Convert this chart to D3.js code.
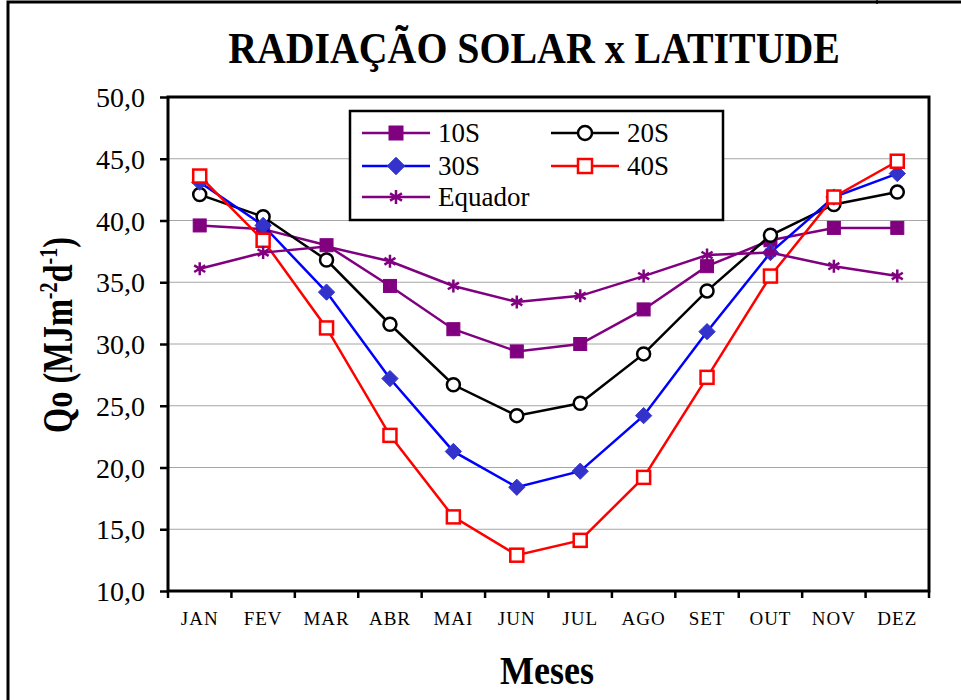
<!DOCTYPE html>
<html>
<head>
<meta charset="utf-8">
<script src="https://cdnjs.cloudflare.com/ajax/libs/d3/7.8.5/d3.min.js"></script>
<style>
  body { margin: 0; background: #fff; }
  svg { display: block; font-family: "Liberation Serif", "Times New Roman", serif; }
</style>
</head>
<body>
<svg width="961" height="700"></svg>
<script>
/*
Chart data
 */
const months = ["JAN", "FEV", "MAR", "ABR", "MAI", "JUN", "JUL", "AGO", "SET", "OUT", "NOV", "DEZ"];
const lat10S = [39.6, 39.3, 38.0, 34.7, 31.2, 29.4, 30.0, 32.8, 36.3, 38.4, 39.4, 39.4];
const lat20S = [42.1, 40.3, 36.8, 31.6, 26.7, 24.2, 25.2, 29.2, 34.3, 38.8, 41.3, 42.3];
const lat30S = [43.1, 39.6, 34.2, 27.2, 21.3, 18.4, 19.7, 24.2, 31.0, 37.4, 41.9, 43.8];
const lat40S = [43.6, 38.4, 31.3, 22.6, 16.0, 12.9, 14.1, 19.2, 27.3, 35.5, 41.9, 44.8];
const equador = [36.1, 37.4, 37.9, 36.7, 34.7, 33.4, 33.9, 35.5, 37.2, 37.4, 36.3, 35.5];
const yTicks = [10, 15, 20, 25, 30, 35, 40, 45, 50];

/*
Static constants
 */
const plot = { left: 168, right: 929, top: 97, bottom: 591 };
const purple = "#800080";
const serif = "Liberation Serif, Times New Roman, serif";

const series = [
    { name: "10S", values: lat10S, line: purple, marker: "square", fill: purple, stroke: purple },
    { name: "20S", values: lat20S, line: "#000000", marker: "circle", fill: "#ffffff", stroke: "#000000" },
    { name: "30S", values: lat30S, line: "#0000ff", marker: "diamond", fill: "#3333cc", stroke: "#3333cc" },
    { name: "40S", values: lat40S, line: "#ff0000", marker: "square", fill: "#ffffff", stroke: "#ff0000" },
    { name: "Equador", values: equador, line: purple, marker: "asterisk", fill: "none", stroke: purple }
];

var svg = d3.select("svg");

var x = d3.scaleBand()
    .domain(months)
    .range([plot.left, plot.right]);

var y = d3.scaleLinear()
    .domain([10, 50])
    .range([plot.bottom, plot.top]);

//Squeeze text horizontally to a given width, like the Excel rendering does
function fitWidth(sel, width) {
    var len = sel.node().getComputedTextLength();
    var cx = +sel.attr("x");
    sel.attr("transform", "translate(" + cx + ",0) scale(" + (width / len) + ",1) translate(" + (-cx) + ",0)");
}

//Outer frame (runs off the right and bottom of the picture)
svg.append("rect")
    .attr("x", 8).attr("y", 2)
    .attr("width", 1100).attr("height", 1100)
    .attr("fill", "none")
    .attr("stroke", "#000").attr("stroke-width", 3);
svg.append("line")
    .attr("x1", 877).attr("x2", 877).attr("y1", 0).attr("y2", 4)
    .attr("stroke", "#000").attr("stroke-width", 1.5);

//Title
var title = svg.append("text")
    .attr("x", 534).attr("y", 63)
    .attr("text-anchor", "middle")
    .attr("font-weight", "bold")
    .attr("font-size", 45)
    .text("RADIAÇÃO SOLAR x LATITUDE");
fitWidth(title, 612);

//Gridlines
svg.append("g")
    .selectAll("line")
    .data(yTicks.slice(1, -1))
    .join("line")
    .attr("x1", plot.left).attr("x2", plot.right)
    .attr("y1", d => y(d)).attr("y2", d => y(d))
    .attr("stroke", "#a6a6a6").attr("stroke-width", 1);

//Y axis
var yAxis = svg.append("g")
    .attr("transform", "translate(" + plot.left + ",0)")
    .call(d3.axisLeft(y)
        .tickValues(yTicks)
        .tickSize(8)
        .tickPadding(15)
        .tickFormat(d => d3.format(".1f")(d).replace(".", ",")));
yAxis.select(".domain").remove();
yAxis.selectAll(".tick line").attr("stroke", "#000").attr("stroke-width", 2.5);
yAxis.selectAll(".tick text")
    .attr("font-family", serif)
    .attr("font-size", 28)
    .attr("dy", "0.34em")
    .attr("fill", "#000");

//X axis labels, ticks sit between categories
var xAxis = svg.append("g")
    .attr("transform", "translate(0," + plot.bottom + ")")
    .call(d3.axisBottom(x).tickSize(0).tickPadding(21));
xAxis.select(".domain").remove();
xAxis.selectAll(".tick text")
    .attr("font-family", serif)
    .attr("font-size", 19)
    .attr("letter-spacing", 1)
    .attr("fill", "#000");

svg.append("g")
    .selectAll("line")
    .data(months.concat(["end"]))
    .join("line")
    .attr("x1", d => d === "end" ? plot.right : x(d))
    .attr("x2", d => d === "end" ? plot.right : x(d))
    .attr("y1", plot.bottom).attr("y2", plot.bottom + 7)
    .attr("stroke", "#000").attr("stroke-width", 2.5);

//Plot area frame
svg.append("rect")
    .attr("x", plot.left).attr("y", plot.top)
    .attr("width", plot.right - plot.left)
    .attr("height", plot.bottom - plot.top)
    .attr("fill", "none")
    .attr("stroke", "#000").attr("stroke-width", 3);

//Axis titles
var xTitle = svg.append("text")
    .attr("x", 547).attr("y", 684)
    .attr("text-anchor", "middle")
    .attr("font-weight", "bold")
    .attr("font-size", 40)
    .text("Meses");
fitWidth(xTitle, 94);

var yTitle = svg.append("g")
    .attr("transform", "translate(72,335) rotate(-90)")
    .append("text")
    .attr("x", 0).attr("y", 0)
    .attr("text-anchor", "middle")
    .attr("font-weight", "bold")
    .attr("font-size", 42);
yTitle.append("tspan").text("Qo (MJm");
yTitle.append("tspan").attr("font-size", 26).attr("dy", -15).text("-2");
yTitle.append("tspan").attr("dy", 15).text("d");
yTitle.append("tspan").attr("font-size", 26).attr("dy", -15).text("-1");
yTitle.append("tspan").attr("dy", 15).text(")");
fitWidth(yTitle, 196);

/*
Marker drawing
 */
function drawMarker(g, s, size) {
    var h = size / 2;
    if (s.marker === "square") {
        g.append("rect")
            .attr("x", -h).attr("y", -h).attr("width", size).attr("height", size)
            .attr("fill", s.fill).attr("stroke", s.stroke)
            .attr("stroke-width", s.fill === "#ffffff" ? 2.5 : 1);
    } else if (s.marker === "circle") {
        g.append("circle")
            .attr("r", h)
            .attr("fill", s.fill).attr("stroke", s.stroke).attr("stroke-width", 2.5);
    } else if (s.marker === "diamond") {
        var d = h * 1.25;
        g.append("path")
            .attr("d", "M0," + (-d) + "L" + d + ",0L0," + d + "L" + (-d) + ",0Z")
            .attr("fill", s.fill).attr("stroke", s.stroke).attr("stroke-width", 1);
    } else if (s.marker === "asterisk") {
        var a = h * 0.85;
        g.append("path")
            .attr("d", "M0," + (-h) + "V" + h +
                "M" + (-a) + "," + (-a * 0.6) + "L" + a + "," + (a * 0.6) +
                "M" + (-a) + "," + (a * 0.6) + "L" + a + "," + (-a * 0.6))
            .attr("fill", "none").attr("stroke", s.stroke).attr("stroke-width", 2.5);
    }
}

var line = d3.line()
    .x((d, i) => x(months[i]) + x.bandwidth() / 2)
    .y(d => y(d));

var seriesG = svg.append("g").selectAll("g")
    .data(series)
    .join("g");

seriesG.append("path")
    .attr("d", d => line(d.values))
    .attr("fill", "none")
    .attr("stroke", d => d.line)
    .attr("stroke-width", 2.5);

seriesG.each(function(s) {
    var g = d3.select(this);
    s.values.forEach(function(v, i) {
        var m = g.append("g")
            .attr("transform", "translate(" + (x(months[i]) + x.bandwidth() / 2) + "," + y(v) + ")");
        drawMarker(m, s, 13);
    });
});

/*
Legend
 */
var legend = svg.append("g");
legend.append("rect")
    .attr("x", 350).attr("y", 111)
    .attr("width", 373).attr("height", 109)
    .attr("fill", "#fff")
    .attr("stroke", "#000").attr("stroke-width", 2.5);

var legendPos = [
    { x: 362, y: 133 }, { x: 551, y: 133 },
    { x: 362, y: 166 }, { x: 551, y: 166 },
    { x: 362, y: 197 }
];

series.forEach(function(s, i) {
    var p = legendPos[i];
    var item = legend.append("g").attr("transform", "translate(" + p.x + "," + p.y + ")");
    item.append("line")
        .attr("x1", 0).attr("x2", 68)
        .attr("stroke", s.line).attr("stroke-width", 2.5);
    drawMarker(item.append("g").attr("transform", "translate(34,0)"), s, 14);
    item.append("text")
        .attr("x", 76).attr("y", 9)
        .attr("font-family", serif)
        .attr("font-size", 27)
        .text(s.name);
});
</script>
</body>
</html>
